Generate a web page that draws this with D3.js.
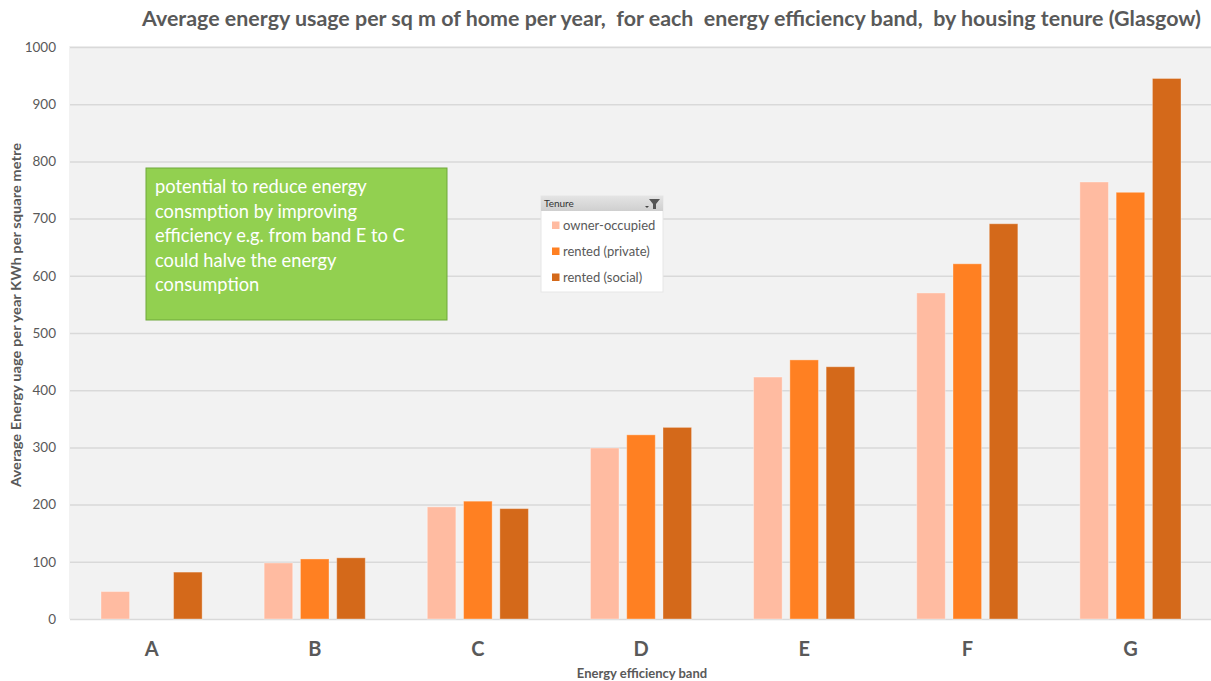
<!DOCTYPE html>
<html>
<head>
<meta charset="utf-8">
<script src="https://cdn.jsdelivr.net/npm/d3@7"></script>
<style>
  html, body { margin: 0; padding: 0; background: #ffffff; }
  svg { display: block; }
  text { font-family: Lato, "Open Sans", "Liberation Sans", sans-serif; }
</style>
</head>
<body>
<svg id="chart" width="1211" height="681"></svg>
<script>
// Energy efficiency bands
const bands = ["A", "B", "C", "D", "E", "F", "G"];
// Housing tenure series
const tenures = ["owner-occupied", "rented (private)", "rented (social)"];
// Average energy usage, kWh per square metre per year (null = no data)
const ownerOccupied = [48, 98, 196, 299, 423, 570, 764];
const rentedPrivate = [null, 105, 206, 322, 453, 621, 746];
const rentedSocial = [82, 107, 193, 335, 441, 691, 945];
const yTicks = [0, 100, 200, 300, 400, 500, 600, 700, 800, 900, 1000];
const noteLines = [
  "potential to reduce energy",
  "consmption by improving",
  "efficiency e.g. from band E to C",
  "could halve the energy",
  "consumption"
];

const seriesValues = [ownerOccupied, rentedPrivate, rentedSocial];
const colors = ["#FFBBA1", "#FF8022", "#D4691A"];

const svg = d3.select("#chart");
const plot = { left: 70, right: 1212, top: 47, bottom: 619 };

const x0 = d3.scaleBand().domain(bands)
  .range([plot.left, plot.right]).paddingInner(0.38).paddingOuter(0.19);
const x1 = d3.scaleBand().domain(tenures)
  .range([0, x0.bandwidth()]).paddingInner(0.212).paddingOuter(0);
const y = d3.scaleLinear().domain([0, 1000]).range([plot.bottom, plot.top]);

// plot background
svg.append("rect")
  .attr("x", plot.left - 1).attr("y", plot.top - 1)
  .attr("width", plot.right - plot.left + 1).attr("height", plot.bottom - plot.top + 1)
  .attr("fill", "#F2F2F2");

// gridlines and y axis labels
const yAxis = d3.axisLeft(y).tickValues(yTicks).tickFormat(d3.format("d"))
  .tickSize(-(plot.right - plot.left)).tickPadding(14);
const gy = svg.append("g").attr("transform", `translate(${plot.left},0)`).call(yAxis);
gy.select(".domain").remove();
gy.selectAll(".tick line").attr("stroke", "#D9D9D9").attr("stroke-width", 1.5);
gy.selectAll(".tick text")
  .attr("fill", "#595959").attr("font-size", 13.5)
  .style("font-family", "Lato, 'Open Sans', sans-serif");

// bars
const rows = bands.map((b, i) => ({ band: b, values: tenures.map((t, s) => ({ tenure: t, s, v: seriesValues[s][i] })) }));
const groups = svg.append("g").selectAll("g").data(rows).join("g")
  .attr("transform", d => `translate(${x0(d.band)},0)`);
groups.selectAll("rect").data(d => d.values.filter(v => v.v != null)).join("rect")
  .attr("x", d => x1(d.tenure))
  .attr("y", d => y(d.v))
  .attr("width", x1.bandwidth())
  .attr("height", d => y(0) - y(d.v))
  .attr("fill", d => colors[d.s])
  .attr("stroke", "rgba(255,255,255,0.35)")
  .attr("stroke-width", 1);

// x axis labels
const xAxis = d3.axisBottom(x0).tickSize(0).tickPadding(23);
const gx = svg.append("g").attr("transform", `translate(0,${plot.bottom})`).call(xAxis);
gx.select(".domain").remove();
gx.selectAll(".tick text")
  .attr("fill", "#595959").attr("font-size", 20).attr("font-weight", "bold")
  .style("font-family", "Lato, 'Open Sans', sans-serif");

// title
svg.append("text")
  .attr("x", 142).attr("y", 26)
  .attr("textLength", 1059).attr("lengthAdjust", "spacingAndGlyphs")
  .style("white-space", "pre")
  .attr("fill", "#595959").attr("font-size", 20).attr("font-weight", "bold")
  .text("Average energy usage per sq m of home per year,  for each  energy efficiency band,  by housing tenure (Glasgow)");

// axis titles
svg.append("text")
  .attr("x", 642).attr("y", 678)
  .attr("text-anchor", "middle")
  .attr("fill", "#595959").attr("font-size", 13).attr("font-weight", "bold")
  .text("Energy efficiency band");

svg.append("text")
  .attr("transform", "translate(21,315) rotate(-90)")
  .attr("text-anchor", "middle")
  .attr("textLength", 344).attr("lengthAdjust", "spacingAndGlyphs")
  .attr("fill", "#595959").attr("font-size", 12.5).attr("font-weight", "bold")
  .text("Average Energy uage per year KWh per square metre");

// annotation box
const note = svg.append("g").attr("transform", "translate(146,168)");
note.append("rect")
  .attr("width", 301).attr("height", 152)
  .attr("fill", "#92D050").attr("stroke", "#6FA83A").attr("stroke-width", 1);
note.selectAll("text").data(noteLines).join("text")
  .attr("x", 9).attr("y", (d, i) => 25 + i * 24.5)
  .attr("fill", "#ffffff").attr("font-size", 18.3)
  .text(d => d);

// legend (slicer style)
const lg = svg.append("g").attr("transform", "translate(541,196)");
lg.append("rect").attr("width", 122).attr("height", 96)
  .attr("fill", "#ffffff").attr("stroke", "#E6E6E6");
const hdrGrad = svg.append("defs").append("linearGradient")
  .attr("id", "hdr").attr("x1", 0).attr("x2", 0).attr("y1", 0).attr("y2", 1);
hdrGrad.append("stop").attr("offset", 0).attr("stop-color", "#E4E4E4");
hdrGrad.append("stop").attr("offset", 1).attr("stop-color", "#CFCFCF");
lg.append("rect").attr("width", 122).attr("height", 15).attr("fill", "url(#hdr)");
lg.append("text").attr("x", 3).attr("y", 11)
  .attr("font-size", 10).attr("fill", "#333333").text("Tenure");
// dropdown marker and funnel icon
lg.append("path").attr("d", "M104,10 L108,10 L106,12 Z").attr("fill", "#444");
lg.append("path").attr("d", "M108,3 L119,3 L115,8 L115,13 L112,13 L112,8 Z").attr("fill", "#555");
const items = lg.selectAll("g.item").data(tenures).join("g").attr("class", "item")
  .attr("transform", (d, i) => `translate(0,${29.5 + i * 26})`);
items.append("rect").attr("x", 11).attr("y", -4).attr("width", 7.5).attr("height", 7.5)
  .attr("fill", (d, i) => colors[i]);
items.append("text").attr("x", 22).attr("y", 4.5)
  .attr("font-size", 13).attr("fill", "#595959").text(d => d);
</script>
</body>
</html>
